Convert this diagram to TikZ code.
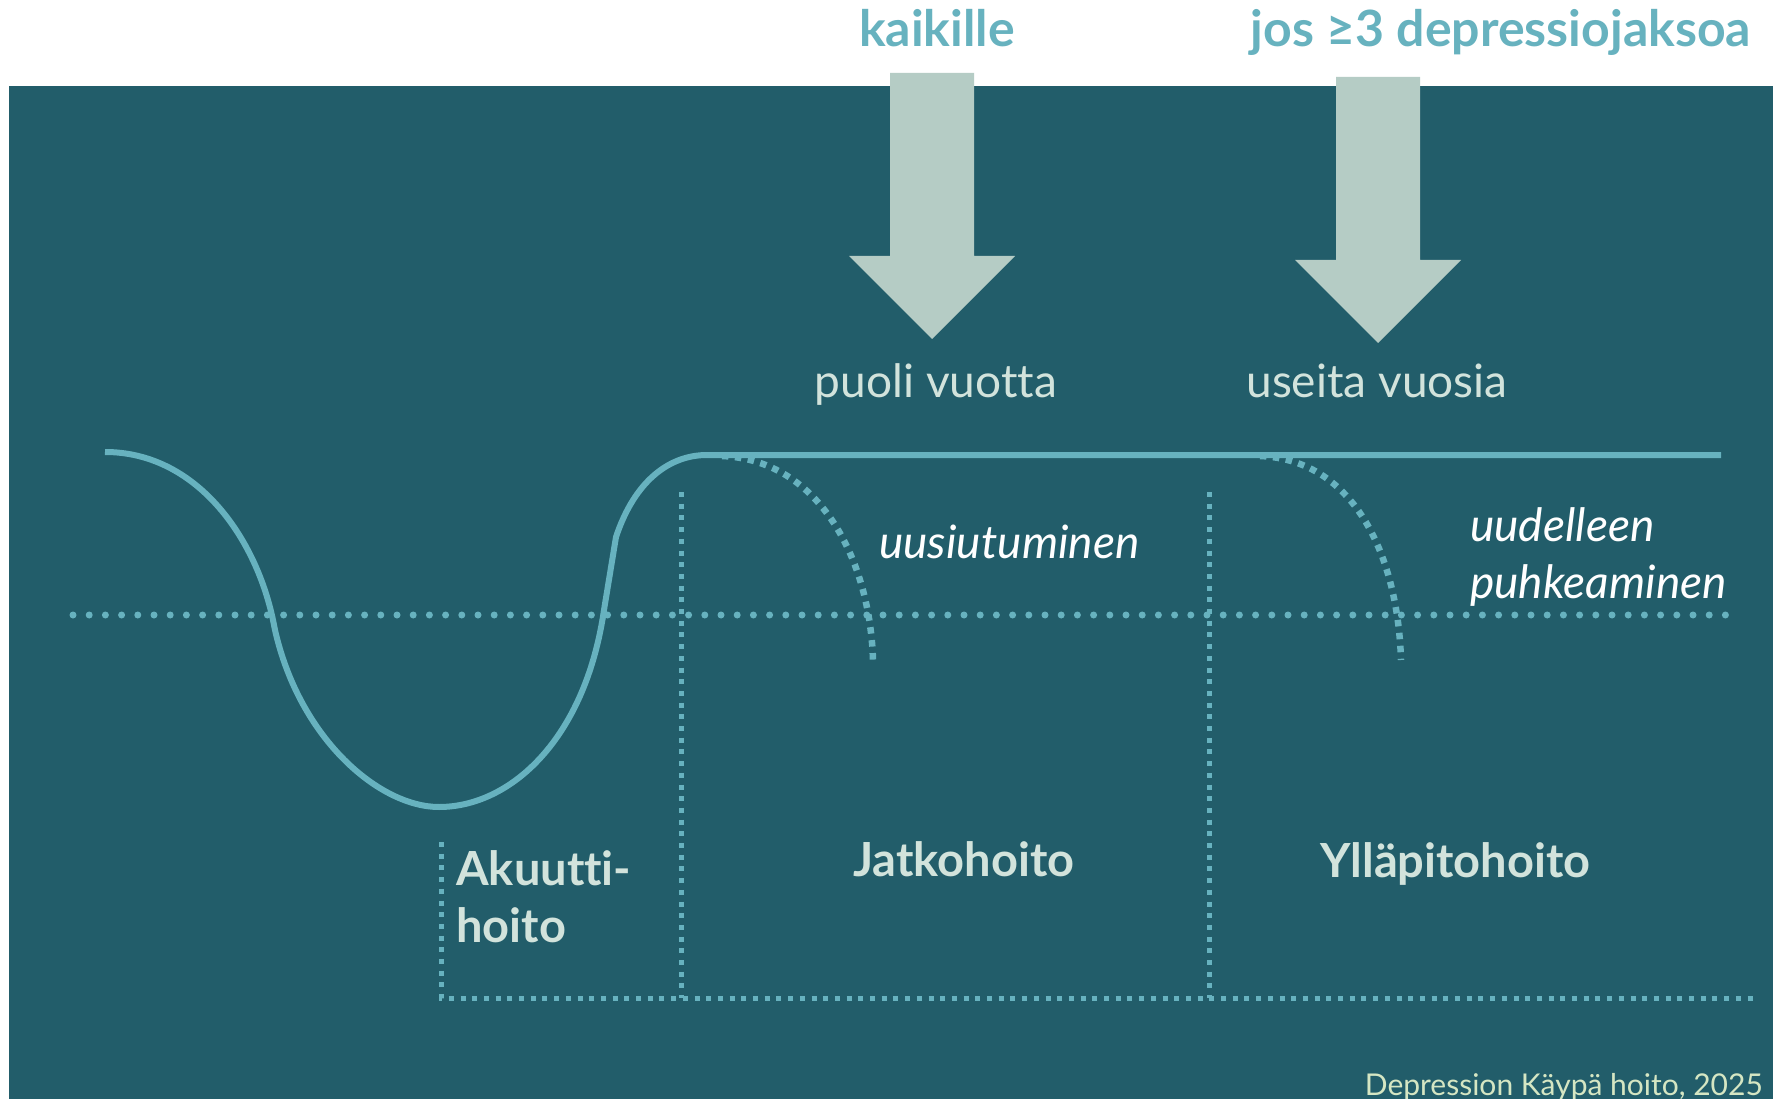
\documentclass[tikz,border=0pt]{standalone}
\usepackage{fontspec}
\setmainfont{Lato}[Ligatures=NoCommon]
\usetikzlibrary{positioning}
\definecolor{bgteal}{HTML}{225D6A}
\definecolor{lineteal}{HTML}{67B2BF}
\definecolor{arrowsage}{HTML}{B5CCC5}
\definecolor{labelsage}{HTML}{D2E3DC}
\definecolor{sourcegreen}{HTML}{D5E6C3}

\begin{document}
\begin{tikzpicture}[x=1pt, y=-1pt,
    heading/.style={font=\fontsize{50}{58}\selectfont\bfseries, text=lineteal, inner sep=0pt, anchor=base},
    duration/.style={font=\fontsize{46}{57}\selectfont, text=labelsage, inner sep=0pt, anchor=base},
    phase/.style={font=\fontsize{47}{57}\selectfont\bfseries, text=labelsage, inner sep=0pt, anchor=base west, align=left},
    event/.style={font=\fontsize{46}{57}\selectfont\itshape, text=white, inner sep=0pt, anchor=base west, align=left},
    blockarrow/.style={fill=arrowsage},
    course/.style={draw=lineteal, line width=6pt},
    relapse/.style={draw=lineteal, line width=6.5pt, dash pattern=on 6.5pt off 6.5pt},
    remission/.style={draw=lineteal, line width=7pt, line cap=round, dash pattern=on 0pt off 16.2pt},
    border/.style={draw=lineteal, line width=5pt, dash pattern=on 5pt off 6.7pt}]
      \useasboundingbox (0,0) rectangle (1773,1099);
      \fill[white] (0,0) rectangle (1773,1099);
      \fill[bgteal] (9,86) rectangle (1773,1099);

      % Define nodes
      \node[heading] (kaikille) at (937,47) {kaikille};
      \node[heading] (jos) at (1501,47) {jos ≥3 depressiojaksoa};
      \node[duration] (puoli) at (936,397) {puoli vuotta};
      \node[duration] (useita) at (1377,397) {useita vuosia};
      \node[event] (uusiutuminen) at (879,558) {uusiutuminen};
      \node[event] (uudelleen) at (1470,598) {uudelleen\\puhkeaminen};
      \node[phase] (akuutti) at (456,942) {Akuutti-\\hoito};
      \node[phase] (jatko) at (853,876) {Jatkohoito};
      \node[phase] (yllapito) at (1320,877) {Ylläpitohoito};
      \node[font=\fontsize{30}{36}\selectfont, text=sourcegreen, inner sep=0pt, anchor=base east] (source) at (1763,1095) {Depression Käypä hoito, 2025};

      \coordinate (tip1) at (932,339);
      \coordinate (tip2) at (1378,343);

      % Draw arrows
      \fill[blockarrow] (tip1) -- ++(83,-83) -- ++(-41,0) -- ++(0,-183) -- ++(-84,0) -- ++(0,183) -- ++(-41,0) -- cycle;
      \fill[blockarrow] (tip2) -- ++(83,-83) -- ++(-41,0) -- ++(0,-183) -- ++(-84,0) -- ++(0,183) -- ++(-41,0) -- cycle;

      % Draw lines
      \draw[remission] (73,615) -- (1733,615);
      \draw[border] (441,842) -- (441,998) -- (1753,998);
      \draw[border] (681,492) -- (681,998);
      \draw[border] (1209,492) -- (1209,998);
      \draw[relapse] (722,456) .. controls (820,460) and (870,560) .. (873,660);
      \draw[relapse] (1260,456) .. controls (1357,460) and (1398,560) .. (1401,660);
      \draw[course] (105,452) .. controls (195,452) and (255,535) .. (273,620)
        -- (275,630) .. controls (300,740) and (380,807) .. (439,807)
        .. controls (510,807) and (585,740) .. (604,610)
        -- (616,537) .. controls (635,480) and (670,455) .. (707,455) -- (1721,455);
    \end{tikzpicture}
\end{document}
